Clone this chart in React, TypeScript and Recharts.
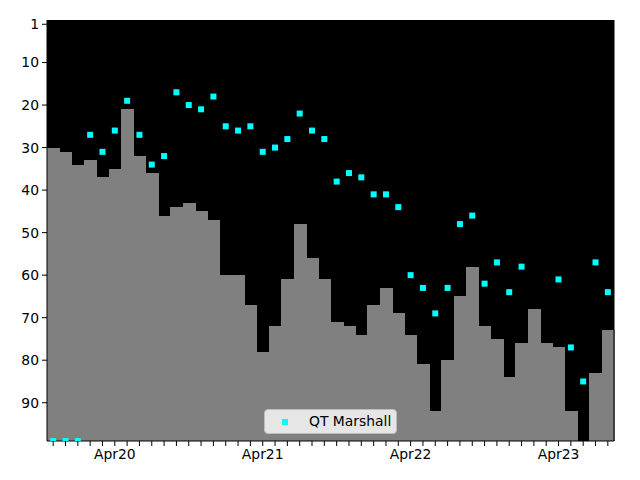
import React from "react";
import {
  ComposedChart,
  Bar,
  Scatter,
  XAxis,
  YAxis,
  CartesianGrid,
} from "recharts";

const months = [
  "Nov19", "Dec19",
  "Jan20", "Feb20", "Mar20", "Apr20", "May20", "Jun20", "Jul20", "Aug20", "Sep20", "Oct20", "Nov20", "Dec20",
  "Jan21", "Feb21", "Mar21", "Apr21", "May21", "Jun21", "Jul21", "Aug21", "Sep21", "Oct21", "Nov21", "Dec21",
  "Jan22", "Feb22", "Mar22", "Apr22", "May22", "Jun22", "Jul22", "Aug22", "Sep22", "Oct22", "Nov22", "Dec22",
  "Jan23", "Feb23", "Mar23", "Apr23", "May23", "Jun23", "Jul23", "Aug23",
];

const barRank: (number | null)[] = [
  30, 31,
  34, 33, 37, 35, 21, 32, 36, 46, 44, 43, 45, 47,
  60, 60, 67, 78, 72, 61, 48, 56, 61, 71, 72, 74,
  67, 63, 69, 74, 81, 92, 80, 65, 58, 72, 75, 84,
  76, 68, 76, 77, 92, null, 83, 73,
];

const markerRank: (number | null)[] = [
  99, 99,
  99, 27, 31, 26, 19, 27, 34, 32, 17, 20, 21, 18,
  25, 26, 25, 31, 30, 28, 22, 26, 28, 38, 36, 37,
  41, 41, 44, 60, 63, 69, 63, 48, 46, 62, 57, 64,
  58, null, null, 61, 77, 85, 57, 64,
];

const yTicks = [1, 10, 20, 30, 40, 50, 60, 70, 80, 90];
const yBottom = 99;
const seriesName = "QT Marshall";

const table = months.map((m, i) => ({
  month: m,
  range: barRank[i] == null ? null : [barRank[i], yBottom],
  marker: markerRank[i],
}));

const FONT = "'DejaVu Sans', sans-serif";
const tickStyle = { fontSize: 13.9, fill: "#000", fontFamily: FONT };

const Square = (props: any) => {
  const { cx, cy, payload } = props;
  if (payload == null || payload.marker == null || cx == null || cy == null || isNaN(cy)) {
    return <g />;
  }
  return <rect x={cx - 3} y={cy - 3} width={6} height={6} fill="#00ffff" />;
};

// Recharts rounds bar widths to whole pixels; widen slightly so adjacent steps touch.
const StepBar = (props: any) => {
  let x = Number(props.x);
  let y = Number(props.y);
  let w = Number(props.width);
  let h = Number(props.height);
  if (!isFinite(x) || !isFinite(y) || !isFinite(w) || !isFinite(h) || w === 0 || h === 0) return <g />;
  if (h < 0) {
    y += h;
    h = -h;
  }
  if (w < 0) {
    x += w;
    w = -w;
  }
  return (
    <rect x={x} y={y} width={w + 1} height={h} fill="#808080" shapeRendering="crispEdges" />
  );
};

export default function App() {
  return (
    <div style={{ position: "absolute", left: 0, top: 0, width: 640, height: 480, background: "#fff" }}>
      <ComposedChart
        width={640}
        height={480}
        data={table}
        margin={{ top: 20, right: 25, bottom: 0, left: 0 }}
        barCategoryGap={0}
        barGap={0}
      >
        <CartesianGrid fill="#000" horizontal={false} vertical={false} stroke="none" />
        <XAxis
          dataKey="month"
          height={39}
          interval={0}
          tick={tickStyle}
          tickFormatter={(v: string) => (v.startsWith("Apr") ? v : "")}
          axisLine={{ stroke: "#000" }}
          tickLine={{ stroke: "#000" }}
          tickSize={5}
          tickMargin={3}
        />
        <YAxis
          reversed
          domain={[0, yBottom]}
          ticks={yTicks}
          interval={0}
          allowDataOverflow
          width={47}
          tick={tickStyle}
          axisLine={{ stroke: "#000" }}
          tickLine={{ stroke: "#000" }}
          tickSize={5}
          tickMargin={3}
        />
        <YAxis
          yAxisId="right"
          orientation="right"
          width={1}
          tick={false}
          tickLine={false}
          axisLine={{ stroke: "#000" }}
        />
        <Bar dataKey="range" fill="#808080" shape={StepBar} isAnimationActive={false} />
        <Scatter dataKey="marker" name={seriesName} shape={Square} isAnimationActive={false} />
      </ComposedChart>
      <div
        style={{
          position: "absolute",
          left: 264,
          top: 409,
          width: 131,
          height: 23,
          background: "#e6e6e6",
          border: "1px solid #bdbdbd",
          borderRadius: 4,
          fontFamily: FONT,
          fontSize: 13.9,
          color: "#000",
        }}
      >
        <div style={{ position: "absolute", left: 17, top: 9, width: 6, height: 6, background: "#00ffff" }} />
        <div style={{ position: "absolute", left: 44, top: 2, whiteSpace: "nowrap", lineHeight: "18px" }}>
          {seriesName}
        </div>
      </div>
    </div>
  );
}
